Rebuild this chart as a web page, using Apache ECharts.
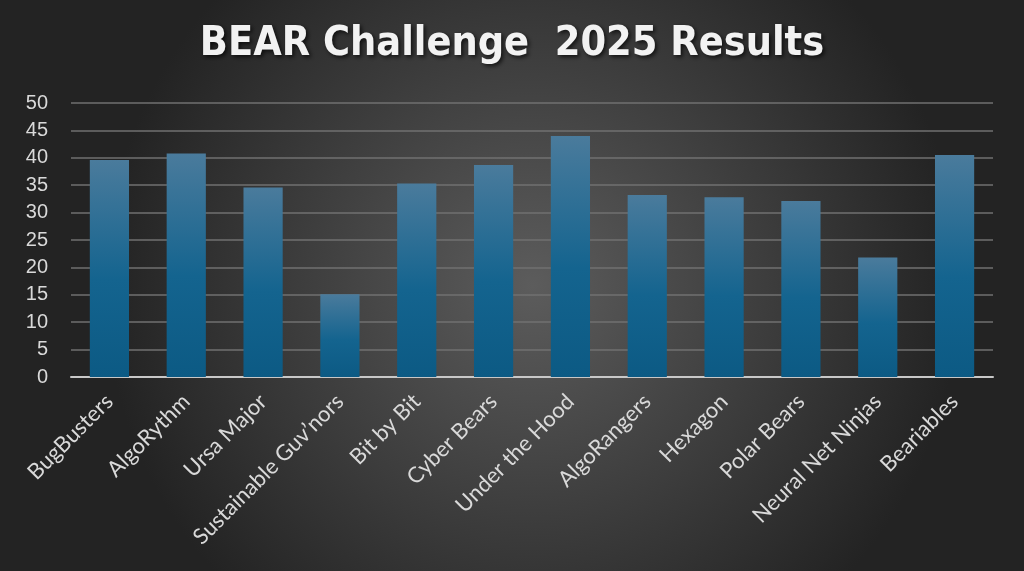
<!DOCTYPE html>
<html>
<head>
<meta charset="utf-8">
<script src="https://cdn.jsdelivr.net/npm/echarts@6/dist/echarts.min.js"></script>
<style>
html,body{margin:0;padding:0;background:#2a2a2a;}
#chart{width:1024px;height:571px;}
</style>
</head>
<body>
<div id="chart"></div>
<script>
const titleText = 'BEAR Challenge  2025 Results';
const categories = ['BugBusters','AlgoRythm','Ursa Major','Sustainable Guv\u2019nors','Bit by Bit','Cyber Bears','Under the Hood','AlgoRangers','Hexagon','Polar Bears','Neural Net Ninjas','Beariables'];
const scores = [39.6, 40.8, 34.6, 15.1, 35.3, 38.7, 44.0, 33.2, 32.8, 32.1, 21.8, 40.5];
const yTicks = [0, 5, 10, 15, 20, 25, 30, 35, 40, 45, 50];

const chart = echarts.init(document.getElementById('chart'), null, {renderer:'canvas'});
chart.setOption({
  backgroundColor: {
    type: 'radial', x: 0.52, y: 0.5, r: 0.75,
    colorStops: [{offset:0, color:'#5c5c5c'}, {offset:1, color:'#232323'}]
  },
  title: {
    text: titleText,
    left: 'center', top: 19,
    textStyle: {
      color: '#f2f2f2', fontSize: 41, fontWeight: 'bold',
      fontFamily: 'DejaVu Sans Condensed',
      textShadowColor: 'rgba(0,0,0,0.7)', textShadowBlur: 4, textShadowOffsetX: 2, textShadowOffsetY: 2
    }
  },
  grid: { left: 71, right: 31, top: 103, bottom: 194, containLabel: false },
  xAxis: {
    type: 'category', data: categories,
    axisLine: { show: true, lineStyle: { color: '#c8c8c8', width: 2 } },
    axisTick: { show: false },
    axisLabel: {
      interval: 0, rotate: 45, color: '#d9d9d9', fontSize: 22,
      fontFamily: 'Lato', margin: 21
    }
  },
  yAxis: {
    type: 'value', min: yTicks[0], max: yTicks[yTicks.length-1], interval: 5,
    axisLine: { show: false }, axisTick: { show: false },
    axisLabel: { color: '#d9d9d9', fontSize: 20, fontFamily: 'Liberation Sans', margin: 23 },
    splitLine: { lineStyle: { color: '#707070', width: 1.5 } }
  },
  series: [{
    type: 'bar', data: scores, barWidth: '51%',
    itemStyle: {
      color: {
        type: 'linear', x: 0, y: 0, x2: 0, y2: 1,
        colorStops: [{offset:0, color:'#4a7b9c'}, {offset:0.55, color:'#14648f'}, {offset:1, color:'#0c5a84'}]
      },
      shadowColor: 'rgba(0,0,0,0.55)', shadowBlur: 8, shadowOffsetX: 1, shadowOffsetY: 1
    }
  }]
});
</script>
</body>
</html>
